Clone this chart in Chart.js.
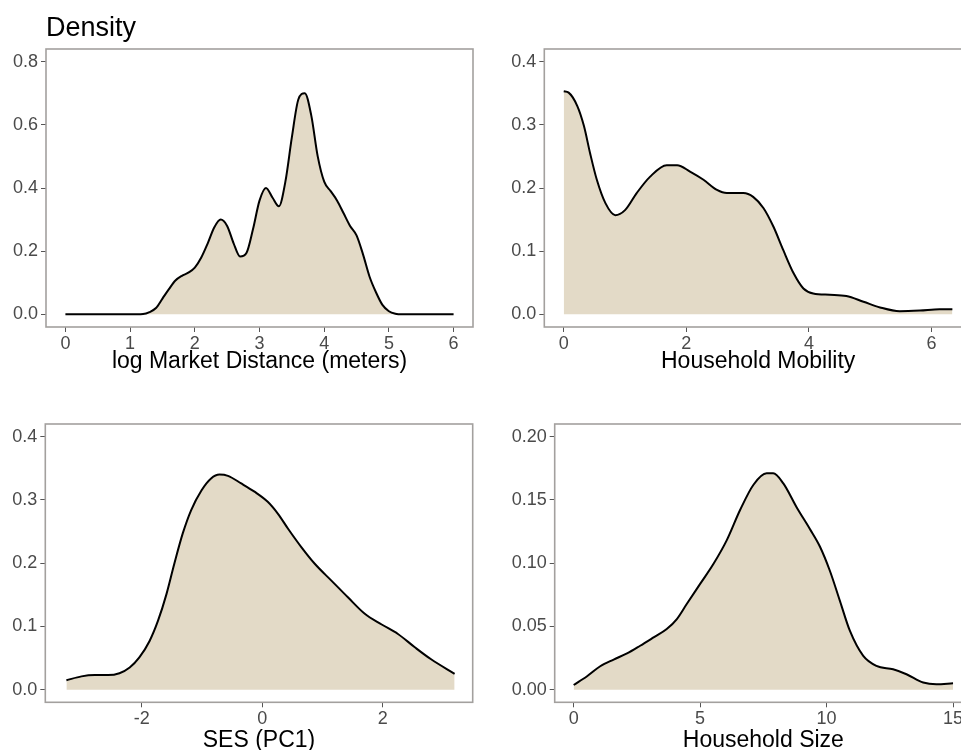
<!DOCTYPE html>
<html>
<head>
<meta charset="utf-8">
<script src="https://cdn.jsdelivr.net/npm/chart.js@4/dist/chart.umd.min.js"></script>
<style>
  html, body { margin: 0; padding: 0; background: #fff; }
  #wrap { position: relative; width: 961px; height: 750px; overflow: hidden; background: #fff; }
  canvas { position: absolute; }
</style>
</head>
<body>
<div id="wrap">
  <canvas id="c1" width="480" height="380" style="left:0px;top:0px"></canvas>
  <canvas id="c2" width="500" height="380" style="left:480px;top:0px"></canvas>
  <canvas id="c3" width="480" height="380" style="left:0px;top:375px"></canvas>
  <canvas id="c4" width="500" height="380" style="left:480px;top:375px"></canvas>
</div>
<script>
// ---- Data ----
const marketX = [0, 1.0, 1.2, 1.3, 1.4, 1.5, 1.6, 1.7, 1.8, 1.9, 2.0, 2.1, 2.2, 2.3, 2.4, 2.5, 2.6, 2.7, 2.8, 2.9, 3.0, 3.1, 3.2, 3.3, 3.4, 3.5, 3.6, 3.7, 3.8, 3.9, 4.0, 4.1, 4.2, 4.3, 4.4, 4.5, 4.6, 4.7, 4.8, 4.9, 5.0, 5.1, 5.2, 6.0];
const marketY = [0, 0, 0.001, 0.007, 0.02, 0.05, 0.08, 0.107, 0.122, 0.132, 0.148, 0.18, 0.225, 0.275, 0.30, 0.28, 0.225, 0.183, 0.195, 0.27, 0.36, 0.40, 0.37, 0.342, 0.42, 0.56, 0.68, 0.70, 0.63, 0.50, 0.42, 0.39, 0.36, 0.32, 0.28, 0.25, 0.19, 0.12, 0.07, 0.03, 0.01, 0.002, 0, 0];

const mobilityX = [0, 0.08, 0.22, 0.33, 0.43, 0.54, 0.68, 0.84, 1.00, 1.19, 1.41, 1.68, 1.85, 2.06, 2.28, 2.50, 2.66, 2.93, 3.09, 3.26, 3.42, 3.58, 3.75, 3.91, 4.07, 4.34, 4.61, 4.89, 5.16, 5.48, 5.81, 6.13, 6.34];
const mobilityY = [0.353, 0.351, 0.33, 0.298, 0.255, 0.213, 0.176, 0.157, 0.165, 0.192, 0.218, 0.236, 0.236, 0.226, 0.213, 0.197, 0.192, 0.192, 0.186, 0.168, 0.139, 0.102, 0.065, 0.041, 0.033, 0.031, 0.029, 0.020, 0.011, 0.005, 0.006, 0.008, 0.008];

const sesX = [-3.25, -3.0, -2.78, -2.56, -2.37, -2.20, -2.04, -1.87, -1.73, -1.59, -1.46, -1.32, -1.18, -1.01, -0.85, -0.71, -0.57, -0.35, -0.13, 0.09, 0.26, 0.43, 0.65, 0.87, 1.15, 1.42, 1.70, 1.98, 2.25, 2.53, 2.80, 3.19];
const sesY = [0.0148, 0.021, 0.023, 0.023, 0.026, 0.035, 0.051, 0.077, 0.109, 0.151, 0.199, 0.247, 0.284, 0.315, 0.334, 0.340, 0.338, 0.326, 0.313, 0.297, 0.278, 0.254, 0.225, 0.199, 0.172, 0.146, 0.120, 0.103, 0.088, 0.067, 0.048, 0.025];

const sizeX = [0, 0.53, 1.05, 1.58, 2.11, 2.63, 3.16, 3.68, 4.08, 4.47, 5.0, 5.53, 6.05, 6.58, 7.11, 7.63, 7.89, 8.29, 8.82, 9.34, 9.74, 10.13, 10.53, 10.92, 11.45, 11.97, 12.63, 13.16, 13.82, 14.34, 15.0];
const sizeY = [0.0037, 0.0106, 0.0185, 0.0238, 0.0286, 0.0347, 0.0413, 0.0479, 0.0558, 0.0677, 0.0836, 0.0995, 0.118, 0.142, 0.162, 0.171, 0.171, 0.163, 0.144, 0.127, 0.113, 0.094, 0.070, 0.0466, 0.0267, 0.0188, 0.0161, 0.0122, 0.0056, 0.0042, 0.005];

// ---- Tick labels ----
const marketXTicks = [0, 1, 2, 3, 4, 5, 6];
const marketYTicks = ['0.0', '0.2', '0.4', '0.6', '0.8'];
const mobilityXTicks = [0, 2, 4, 6];
const mobilityYTicks = ['0.0', '0.1', '0.2', '0.3', '0.4'];
const sesXTicks = [-2, 0, 2];
const sesYTicks = ['0.0', '0.1', '0.2', '0.3', '0.4'];
const sizeXTicks = [0, 5, 10, 15];
const sizeYTicks = ['0.00', '0.05', '0.10', '0.15', '0.20'];

const titles = ['log Market Distance (meters)', 'Household Mobility', 'SES (PC1)', 'Household Size'];

// ---- Styling ----
const FONT = "'Liberation Sans', Arial, Helvetica, sans-serif";
const FILL = '#e3dac7';
const FRAME = '#a3a09e';
const TICKCOL = '#555555';
const LABELCOL = '#4a4a4a';

const framePlugin = {
  id: 'frame',
  afterDraw(chart) {
    const a = chart.chartArea, ctx = chart.ctx;
    ctx.save();
    ctx.strokeStyle = FRAME;
    ctx.lineWidth = 1.6;
    ctx.strokeRect(a.left, a.top, a.right - a.left, a.bottom - a.top);
    ctx.restore();
  }
};

function makePanel(id, xs, ys, xTicks, yTicks, xTitle, box, withTitle) {
  const canvas = document.getElementById(id);
  const W = canvas.width, H = canvas.height;
  const pts = xs.map((x, i) => ({ x: x, y: ys[i] }));
  const titlePlug = withTitle ? {
    display: true, text: 'Density', align: 'start', fullSize: false, color: '#000',
    font: { family: FONT, size: 27, weight: 'normal', lineHeight: 1 },
    padding: { top: 15, bottom: box.T - 15 - 27 }
  } : { display: false };
  return new Chart(canvas, {
    type: 'line',
    data: { datasets: [{
      data: pts,
      borderColor: '#000',
      borderWidth: 2,
      backgroundColor: FILL,
      fill: 'origin',
      pointRadius: 0,
      cubicInterpolationMode: 'monotone'
    }]},
    options: {
      responsive: false,
      animation: false,
      devicePixelRatio: 1,
      layout: { padding: { top: withTitle ? 0 : box.T, left: 0, right: W - box.R, bottom: 0 } },
      plugins: { legend: { display: false }, tooltip: { enabled: false }, title: titlePlug },
      scales: {
        x: {
          type: 'linear', min: box.xmin, max: box.xmax,
          afterBuildTicks: s => { s.ticks = xTicks.map(v => ({ value: v })); },
          afterFit: s => { s.height = H - box.B; },
          ticks: { callback: (v) => String(v), color: LABELCOL, font: { family: FONT, size: 18 }, padding: 1, maxRotation: 0, autoSkip: false },
          grid: { display: true, drawOnChartArea: false, drawTicks: true, tickLength: 5, color: TICKCOL, lineWidth: 1 },
          border: { display: false },
          title: { display: true, text: xTitle, color: '#000', font: { family: FONT, size: 23, lineHeight: 1 }, padding: { top: 0, bottom: box.tb } }
        },
        y: {
          type: 'linear', min: box.ymin, max: box.ymax,
          afterBuildTicks: s => { s.ticks = yTicks.map(v => ({ value: parseFloat(v) })); },
          afterFit: s => { s.width = box.L; },
          ticks: { callback: (v, i) => yTicks[i], color: LABELCOL, font: { family: FONT, size: 18 }, padding: 3, autoSkip: false },
          grid: { display: true, drawOnChartArea: false, drawTicks: true, tickLength: 5, color: TICKCOL, lineWidth: 1 },
          border: { display: false }
        }
      }
    },
    plugins: [framePlugin]
  });
}

makePanel('c1', marketX, marketY, marketXTicks, marketYTicks, titles[0],
  { L: 46, T: 49, R: 473, B: 327, xmin: -0.3, xmax: 6.3, ymin: -0.04, ymax: 0.84, tb: 6.5 }, true);
makePanel('c2', mobilityX, mobilityY, mobilityXTicks, mobilityYTicks, titles[1],
  { L: 64.3, T: 49, R: 492, B: 327, xmin: -0.317, xmax: 6.66, ymin: -0.02, ymax: 0.42, tb: 6.5 }, false);
makePanel('c3', sesX, sesY, sesXTicks, sesYTicks, titles[2],
  { L: 45.3, T: 49, R: 472.7, B: 327.3, xmin: -3.6, xmax: 3.49, ymin: -0.02, ymax: 0.42, tb: 2.5 }, false);
makePanel('c4', sizeX, sizeY, sizeXTicks, sizeYTicks, titles[3],
  { L: 74.7, T: 49, R: 492, B: 327.3, xmin: -0.75, xmax: 15.75, ymin: -0.01, ymax: 0.21, tb: 2.5 }, false);
</script>
</body>
</html>
